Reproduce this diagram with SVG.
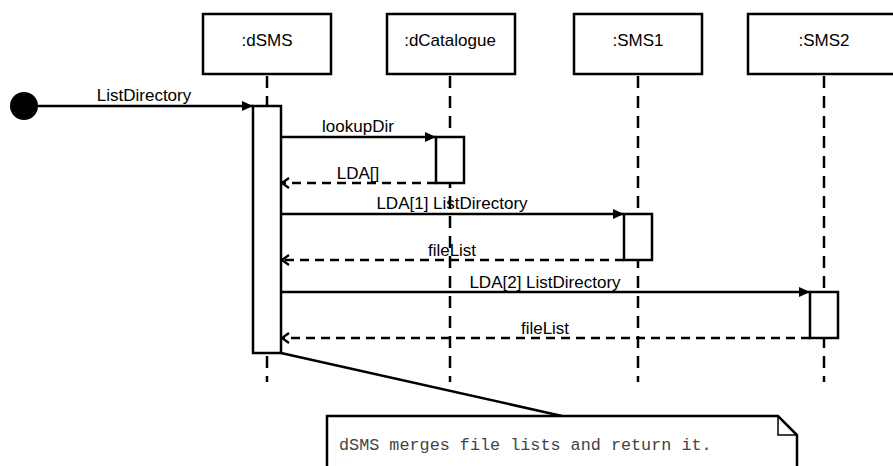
<svg xmlns="http://www.w3.org/2000/svg" width="893" height="466" viewBox="0 0 893 466">
  <style>
    .head { fill: #fff; stroke: #000; stroke-width: 2.5; }
    .lbl { font-family: "Liberation Sans", Arial, sans-serif; font-size: 17px; fill: #000; text-anchor: middle; }
    .life { stroke: #000; stroke-width: 2.5; stroke-dasharray: 12 8; fill: none; }
    .act { fill: #fff; stroke: #000; stroke-width: 2.5; }
    .call { stroke: #000; stroke-width: 2.5; fill: none; marker-end: url(#solid); }
    .ret { stroke: #000; stroke-width: 2.5; stroke-dasharray: 9 6; fill: none; marker-end: url(#open); }
    .note { fill: #fff; stroke: #000; stroke-width: 2.5; }
    .notetxt { font-family: "Liberation Mono", "Courier New", monospace; font-size: 16.8px; fill: #444; }
  </style>
  <defs>
    <marker id="solid" markerUnits="userSpaceOnUse" markerWidth="11" markerHeight="10" refX="11" refY="5" orient="auto">
      <path d="M0,0 L11,5 L0,10 z" fill="#000"/>
    </marker>
    <marker id="open" markerUnits="userSpaceOnUse" markerWidth="10" markerHeight="12" refX="8.5" refY="6" orient="auto">
      <path d="M1.5,1 L8.5,6 L1.5,11" fill="none" stroke="#000" stroke-width="2.2"/>
    </marker>
  </defs>

  <rect width="893" height="466" fill="#fff"/>

  <!-- lifelines -->
  <g id="lifelines">
    <line class="life" x1="267" y1="76" x2="267" y2="382"/>
    <line class="life" x1="450" y1="76" x2="450" y2="382"/>
    <line class="life" x1="638" y1="76" x2="638" y2="382"/>
    <line class="life" x1="824" y1="76" x2="824" y2="382"/>
  </g>

  <!-- participants -->
  <g id="dSMS">
    <rect class="head" x="203" y="14" width="128" height="60"/>
    <text class="lbl" x="267" y="46">:dSMS</text>
    <rect class="act" x="253" y="106" width="28" height="247"/>
  </g>
  <g id="dCatalogue">
    <rect class="head" x="387" y="14" width="128" height="60"/>
    <text class="lbl" x="450" y="46">:dCatalogue</text>
    <rect class="act" x="436" y="137" width="28" height="46"/>
  </g>
  <g id="SMS1">
    <rect class="head" x="574" y="14" width="128" height="60"/>
    <text class="lbl" x="638" y="46">:SMS1</text>
    <rect class="act" x="624" y="214" width="28" height="46"/>
  </g>
  <g id="SMS2">
    <rect class="head" x="748" y="14" width="160" height="60"/>
    <text class="lbl" x="824" y="46">:SMS2</text>
    <rect class="act" x="810" y="292" width="28" height="46"/>
  </g>

  <!-- initial caller -->
  <g id="start">
    <circle cx="24" cy="106" r="14" fill="#000"/>
  </g>

  <!-- note -->
  <g id="note">
    <path class="note" d="M327,416 L778,416 L797,435 L797,472 L327,472 Z"/>
    <polyline points="778,416 778,435 797,435" fill="none" stroke="#000" stroke-width="1.5"/>
    <text class="notetxt" x="339" y="450">dSMS merges file lists and return it.</text>
  </g>

  <!-- messages -->
  <g id="connectors">
    <line class="call" x1="38" y1="106" x2="253" y2="106"/>
    <line class="call" x1="281" y1="137" x2="436" y2="137"/>
    <line class="ret" x1="436" y1="183" x2="282" y2="183"/>
    <line class="call" x1="281" y1="214" x2="624" y2="214"/>
    <line class="ret" x1="624" y1="260" x2="282" y2="260"/>
    <line class="call" x1="281" y1="292" x2="810" y2="292"/>
    <line class="ret" x1="810" y1="338" x2="282" y2="338"/>
    <line x1="281" y1="353" x2="562" y2="416" stroke="#000" stroke-width="2.5"/>
  </g>

  <!-- message labels -->
  <g id="labels">
    <text class="lbl" x="144" y="101">ListDirectory</text>
    <text class="lbl" x="358" y="132">lookupDir</text>
    <text class="lbl" x="358" y="179">LDA[]</text>
    <text class="lbl" x="452" y="209">LDA[1] ListDirectory</text>
    <text class="lbl" x="452" y="256">fileList</text>
    <text class="lbl" x="545" y="288">LDA[2] ListDirectory</text>
    <text class="lbl" x="545" y="334">fileList</text>
  </g>
</svg>
